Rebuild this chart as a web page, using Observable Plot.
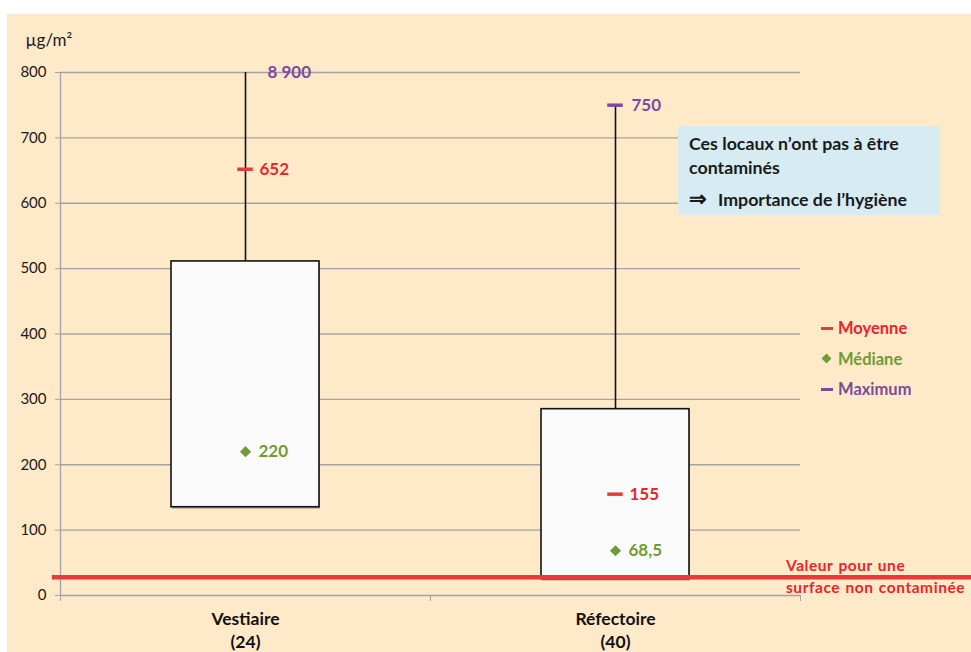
<!DOCTYPE html>
<html><head><meta charset="utf-8">
<script src="https://cdn.jsdelivr.net/npm/d3@7"></script>
<script src="https://cdn.jsdelivr.net/npm/@observablehq/plot@0.6"></script>
<style>
html,body{margin:0;padding:0;background:#fff;}
#wrap{position:relative;width:971px;height:652px;overflow:hidden;font-family:Lato,"Open Sans",sans-serif;}
#bg{position:absolute;left:7px;top:14px;right:0;bottom:0;background:#FEE9C9;}
#chart{position:absolute;left:0;top:0;}
#note{position:absolute;left:678px;top:126px;width:262px;height:89px;background:#D6ECF2;box-sizing:border-box;padding:5px 0 0 11px;font-weight:bold;font-size:17.8px;color:#1a1a1a;line-height:24px;white-space:nowrap;}
#note .l3{margin-top:7px;}
#note .arr{font-size:21px;display:inline-block;width:29px;}
#legend{position:absolute;left:821px;top:313px;font-weight:bold;font-size:16.5px;line-height:30.5px;white-space:nowrap;}
#legend .sw{display:inline-block;width:12px;height:12px;margin-right:5px;position:relative;vertical-align:-1px;}
#legend .sw i{position:absolute;left:0;right:0;top:4px;height:3px;}
#legend .sw b{position:absolute;left:2px;top:1px;width:7px;height:7px;transform:rotate(45deg);}
#thr{position:absolute;left:786px;top:554px;font-weight:bold;font-size:15.5px;color:#E8262C;line-height:22px;letter-spacing:0.55px;word-spacing:1px;white-space:nowrap;}
</style></head>
<body>
<div id="wrap">
  <div id="bg"></div>
  <div id="chart"></div>
  <div id="note"><div>Ces locaux n’ont pas à être</div><div>contaminés</div><div class="l3"><span class="arr">⇒</span>Importance de l’hygiène</div></div>
  <div id="legend"></div>
  <div id="thr">Valeur pour une<br>surface non contaminée</div>
</div>
<script>
// ---- data ----
const categories = ["Vestiaire", "Réfectoire"];
const counts = [24, 40];
const q1 = [135, 25];
const q3 = [511, 285];
const means = [652, 155];
const medians = [220, 68.5];
const maxima = [8900, 750];
const threshold = 28;
const yTicks = [0, 100, 200, 300, 400, 500, 600, 700, 800];
const yMax = 800;

// ---- styles ----
const RED = "#E8262C", RED_LINE = "#E83A3A", GREEN = "#6E9C35", PURPLE = "#7B4C9E", GRID = "#A3A3A3";
const fr = d3.formatLocale({decimal: ",", thousands: " ", grouping: [3], currency: ["", " €"]}).format(",");

const rows = categories.map((c, i) => ({
  cat: c, n: counts[i], c: i + 0.5,
  q1: q1[i], q3: q3[i], mean: means[i], median: medians[i], max: maxima[i],
  maxShown: Math.min(maxima[i], yMax)
}));
const visibleMax = rows.filter(d => d.max <= yMax);
const clippedMax = rows.filter(d => d.max > yMax);

const halfBox = 0.2, halfDash = 0.021;

const plot = Plot.plot({
  width: 971, height: 652,
  marginLeft: 60, marginRight: 171, marginTop: 72, marginBottom: 57,
  style: {background: "transparent", fontFamily: "Lato, 'Open Sans', sans-serif", overflow: "visible"},
  x: {domain: [0, 2], axis: null},
  y: {domain: [0, yMax], axis: null},
  marks: [
    Plot.ruleY(yTicks.filter(d => d > 0), {stroke: GRID, strokeWidth: 1.3}),
    Plot.axisY({ticks: yTicks, tickSize: 5, tickPadding: 9, stroke: GRID, strokeOpacity: 1, fontSize: 15, fill: "#1a1a1a", label: null, tickFormat: d => d}),
    Plot.ruleX([0], {stroke: GRID, strokeWidth: 1.3}),
    Plot.ruleY([0], {stroke: GRID, strokeWidth: 1.3}),
    Plot.axisX({ticks: [0, 1, 2], tickSize: 6, stroke: GRID, strokeOpacity: 1, tickFormat: () => "", label: null}),
    // whiskers
    Plot.ruleX(rows, {x: "c", y1: "q3", y2: "maxShown", stroke: "#111", strokeWidth: 1.6}),
    // box shadow + box
    Plot.rectY(rows, {x1: d => d.c - halfBox, x2: d => d.c + halfBox, y1: "q1", y2: "q3", fill: "#888", dx: 1, dy: 2, fillOpacity: 0.6}),
    Plot.rectY(rows, {x1: d => d.c - halfBox, x2: d => d.c + halfBox, y1: "q1", y2: "q3", fill: "#FAFAFA", stroke: "#111", strokeWidth: 1.6}),
    // threshold line
    Plot.ruleY([threshold], {x1: -0.022, x2: 2.47, stroke: RED_LINE, strokeWidth: 4.5}),
    // max dashes (only when visible) and labels
    Plot.ruleY(visibleMax, {y: "max", x1: d => d.c - halfDash, x2: d => d.c + halfDash, stroke: PURPLE, strokeWidth: 3.5}),
    Plot.text(visibleMax, {x: "c", y: "maxShown", text: d => fr(d.max), dx: 16, textAnchor: "start", fill: PURPLE, fontWeight: "bold", fontSize: 17}),
    Plot.text(clippedMax, {x: "c", y: "maxShown", text: d => fr(d.max), dx: 22, textAnchor: "start", fill: PURPLE, fontWeight: "bold", fontSize: 17}),
    // means
    Plot.ruleY(rows, {y: "mean", x1: d => d.c - halfDash, x2: d => d.c + halfDash, stroke: RED_LINE, strokeWidth: 3.5}),
    Plot.text(rows, {x: "c", y: "mean", text: d => fr(d.mean), dx: 14, textAnchor: "start", fill: RED, fontWeight: "bold", fontSize: 17}),
    // medians
    Plot.dot(rows, {x: "c", y: "median", symbol: "diamond2", r: 5, fill: GREEN, stroke: null}),
    Plot.text(rows, {x: "c", y: "median", text: d => fr(d.median), dx: 13, textAnchor: "start", fill: GREEN, fontWeight: "bold", fontSize: 17}),
    // category labels
    Plot.text(rows, {x: "c", y: 0, text: d => `${d.cat}\n(${d.n})`, dy: 13, lineAnchor: "top", lineHeight: 1.33, fontWeight: "bold", fontSize: 17.5, fill: "#111"}),
    // unit
    Plot.text(["µg/m²"], {frameAnchor: "top-left", dx: -35, dy: -39, textAnchor: "start", fontSize: 17, fill: "#1a1a1a"})
  ]
});
document.getElementById("chart").appendChild(plot);

// legend
const legendItems = [
  {label: "Moyenne", color: RED, sw: `<span class="sw"><i style="background:${RED_LINE}"></i></span>`},
  {label: "Médiane", color: GREEN, sw: `<span class="sw"><b style="background:${GREEN}"></b></span>`},
  {label: "Maximum", color: PURPLE, sw: `<span class="sw"><i style="background:${PURPLE}"></i></span>`}
];
document.getElementById("legend").innerHTML = legendItems.map(d => `<div style="color:${d.color}">${d.sw}${d.label}</div>`).join("");
</script>
</body></html>
